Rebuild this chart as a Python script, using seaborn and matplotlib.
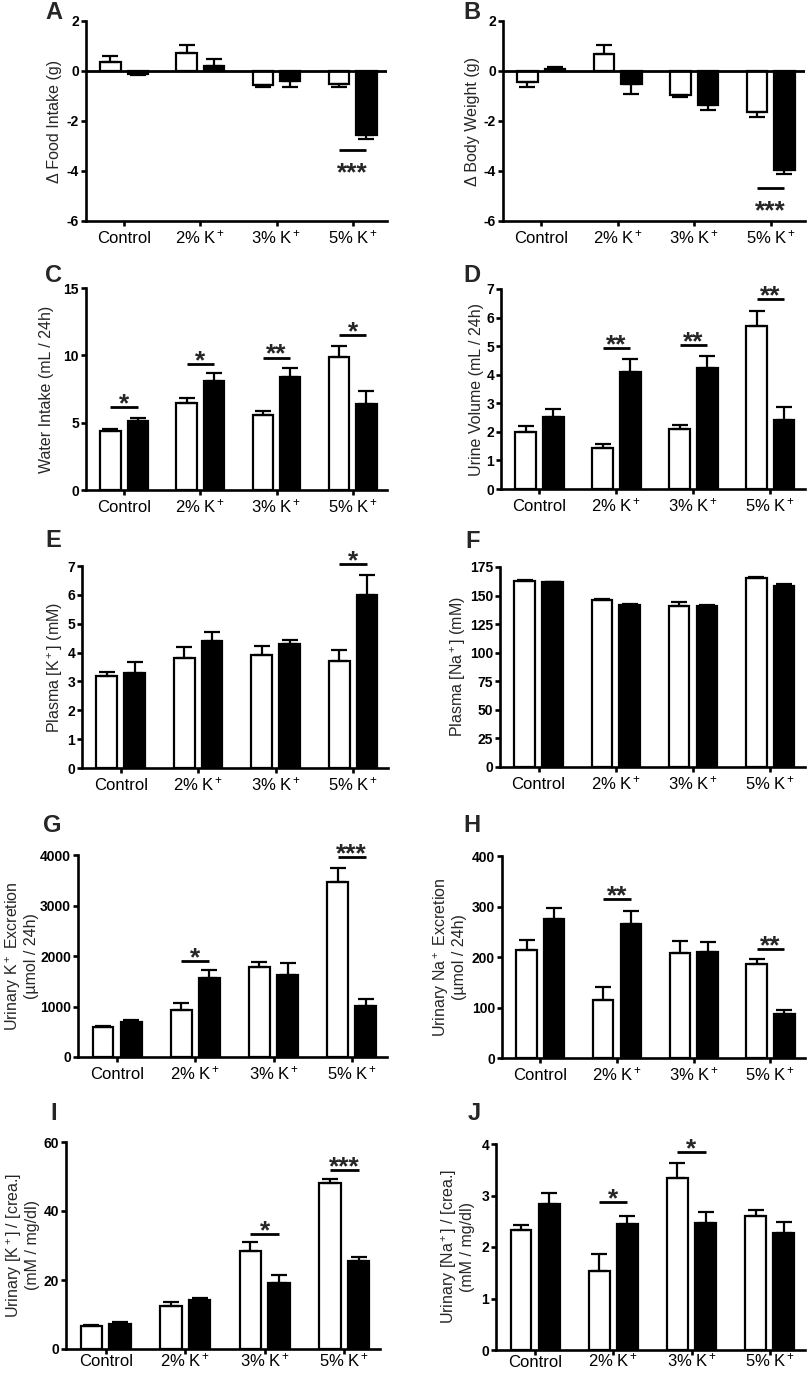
import matplotlib
matplotlib.use("Agg")
import matplotlib.pyplot as plt
import seaborn as sns
import pandas as pd

# categories
diets = ["Control", "2% K$^+$", "3% K$^+$", "5% K$^+$"]

# A - food intake
food_open = [0.35, 0.73, -0.55, -0.5]
food_open_sem = [0.27, 0.33, 0.08, 0.15]
food_filled = [-0.1, 0.2, -0.4, -2.55]
food_filled_sem = [0.05, 0.27, 0.25, 0.15]

# B - body weight
weight_open = [-0.45, 0.7, -0.97, -1.63]
weight_open_sem = [0.2, 0.33, 0.07, 0.2]
weight_filled = [0.08, -0.5, -1.37, -3.95]
weight_filled_sem = [0.07, 0.4, 0.2, 0.15]

# C - water intake
water_open = [4.4, 6.45, 5.55, 9.9]
water_open_sem = [0.12, 0.35, 0.3, 0.8]
water_filled = [5.1, 8.1, 8.4, 6.35]
water_filled_sem = [0.28, 0.58, 0.68, 0.98]

# D - urine volume
urine_open = [2.0, 1.45, 2.1, 5.7]
urine_open_sem = [0.2, 0.13, 0.13, 0.53]
urine_filled = [2.53, 4.1, 4.25, 2.43]
urine_filled_sem = [0.26, 0.45, 0.4, 0.44]

# E - plasma K
pk_open = [3.2, 3.8, 3.9, 3.7]
pk_open_sem = [0.13, 0.38, 0.32, 0.4]
pk_filled = [3.3, 4.4, 4.3, 6.0]
pk_filled_sem = [0.38, 0.32, 0.14, 0.68]

# F - plasma Na
pna_open = [162.5, 146.5, 140.5, 165.5]
pna_open_sem = [1.0, 0.7, 4.0, 0.6]
pna_filled = [161.5, 141.5, 141.0, 158.5]
pna_filled_sem = [0.5, 1.0, 0.5, 2.0]

# G - urinary K excretion
uk_open = [590, 940, 1785, 3460]
uk_open_sem = [30, 135, 100, 280]
uk_filled = [690, 1570, 1620, 1010]
uk_filled_sem = [50, 145, 240, 140]

# H - urinary Na excretion
una_open = [213, 115, 207, 186]
una_open_sem = [20, 25, 25, 10]
una_filled = [275, 265, 210, 88]
una_filled_sem = [22, 27, 19, 7]

# I - urinary K / creatinine
ukc_open = [6.6, 12.5, 28.5, 48.0]
ukc_open_sem = [0.5, 1.2, 2.6, 1.3]
ukc_filled = [7.3, 14.3, 19.2, 25.4]
ukc_filled_sem = [0.5, 0.5, 2.3, 1.4]

# J - urinary Na / creatinine
unac_open = [2.33, 1.53, 3.34, 2.6]
unac_open_sem = [0.09, 0.33, 0.3, 0.12]
unac_filled = [2.84, 2.44, 2.47, 2.27]
unac_filled_sem = [0.21, 0.17, 0.21, 0.22]

sns.set_theme(style="ticks")
plt.rcParams["font.family"] = ["Liberation Sans", "DejaVu Sans"]
plt.rcParams["mathtext.fontset"] = "custom"
plt.rcParams["mathtext.rm"] = "Liberation Sans"
plt.rcParams["mathtext.it"] = "Liberation Sans:italic"
plt.rcParams["mathtext.bf"] = "Liberation Sans:bold"

W, H = 810, 1373
fig = plt.figure(figsize=(W / 100, H / 100), dpi=100)


def make_ax(left, top, right, bottom):
    return fig.add_axes([left / W, 1 - bottom / H, (right - left) / W, (bottom - top) / H])


def panel(box, letter, letter_xy, open_vals, open_sem, filled_vals, filled_sem,
          ylim, yticks, ylabel, label_x, sig, zero_line=False, xpad=12.5):
    left, top, right, bottom = box
    ax = make_ax(*box)
    df = pd.DataFrame({
        "diet": diets * 2,
        "group": ["open"] * 4 + ["filled"] * 4,
        "value": open_vals + filled_vals,
    })
    sns.barplot(data=df, x="diet", y="value", hue="group", order=diets,
                hue_order=["open", "filled"],
                palette={"open": "white", "filled": "black"}, saturation=1,
                edgecolor="black", linewidth=1.6, width=0.72, gap=0.26,
                errorbar=None, legend=False, ax=ax)

    # one-sided SEM bars
    for cont, vals, sems in zip(ax.containers, [open_vals, filled_vals], [open_sem, filled_sem]):
        for bar, v, e in zip(cont, vals, sems):
            xc = bar.get_x() + bar.get_width() / 2
            yerr = [[0], [e]] if v >= 0 else [[e], [0]]
            ax.errorbar([xc], [v], yerr=yerr, fmt="none", ecolor="black",
                        elinewidth=1.6, capsize=5.5, capthick=1.6, zorder=3)

    if zero_line:
        ax.axhline(0, color="black", lw=2.0, zorder=4)

    for i, y, txt, where in sig:
        ax.plot([i - 0.18, i + 0.18], [y, y], color="black", lw=2.0,
                solid_capstyle="butt", clip_on=False)
        dy = -3 if where == "above" else -22
        ax.annotate(txt, (i, y), xytext=(0, dy), textcoords="offset points",
                    ha="center", va="baseline", fontsize=19, fontweight="bold",
                    annotation_clip=False)

    ax.set_xlim(-0.5, 3.45)
    ax.set_ylim(*ylim)
    ax.set_yticks(yticks)
    ax.set_yticklabels([str(t) for t in yticks], fontsize=10, fontweight="bold")
    ax.set_xticks(range(4))
    ax.set_xticklabels(diets, fontsize=12)
    for lab in ax.get_xticklabels():
        lab.set_verticalalignment("baseline")
    ax.set_xlabel("")
    ax.set_ylabel(ylabel, fontsize=11.5, linespacing=1.1)
    ax.yaxis.label.set_verticalalignment("center")
    ax.yaxis.set_label_coords((label_x - left) / (right - left), 0.5)

    sns.despine(ax=ax)
    for s in ["left", "bottom"]:
        ax.spines[s].set_linewidth(1.9)
        ax.spines[s].set_color("black")
    ax.tick_params(axis="both", direction="out", length=3.5, width=1.9,
                   color="black", labelcolor="black")
    ax.tick_params(axis="y", pad=1.5)
    ax.tick_params(axis="x", pad=xpad)
    ax.set_facecolor("white")

    fig.text(letter_xy[0] / W, 1 - letter_xy[1] / H, letter, fontsize=17,
             fontweight="bold", va="baseline", ha="left")
    return ax


panel((86, 21, 387, 221), "A", (45, 19), food_open, food_open_sem, food_filled, food_filled_sem,
      (-6, 2), [-6, -4, -2, 0, 2], "Δ Food Intake (g)", 55,
      [(3, -3.16, "***", "below")], zero_line=True)
panel((503, 21, 805, 221), "B", (463, 19), weight_open, weight_open_sem, weight_filled, weight_filled_sem,
      (-6, 2), [-6, -4, -2, 0, 2], "Δ Body Weight (g)", 473,
      [(3, -4.69, "***", "below")], zero_line=True)
panel((86, 288, 387, 490), "C", (45, 282), water_open, water_open_sem, water_filled, water_filled_sem,
      (0, 15), [0, 5, 10, 15], "Water Intake (mL / 24h)", 47,
      [(0, 6.13, "*", "above"), (1, 9.38, "*", "above"), (2, 9.83, "**", "above"), (3, 11.49, "*", "above")])
panel((501, 289, 805, 489), "D", (463, 282), urine_open, urine_open_sem, urine_filled, urine_filled_sem,
      (0, 7), list(range(8)), "Urine Volume (mL / 24h)", 477,
      [(1, 4.92, "**", "above"), (2, 5.04, "**", "above"), (3, 6.65, "**", "above")])
panel((82, 566, 388, 768), "E", (45, 547), pk_open, pk_open_sem, pk_filled, pk_filled_sem,
      (0, 7), list(range(8)), "Plasma [K$^+$] (mM)", 55,
      [(3, 7.06, "*", "above")])
panel((500, 567, 805, 767), "F", (465, 548), pna_open, pna_open_sem, pna_filled, pna_filled_sem,
      (0, 175), list(range(0, 176, 25)), "Plasma [Na$^+$] (mM)", 458, [])
panel((78, 855, 387, 1057), "G", (43, 832), uk_open, uk_open_sem, uk_filled, uk_filled_sem,
      (0, 4000), [0, 1000, 2000, 3000, 4000], "Urinary K$^+$ Excretion\n(µmol / 24h)", 21,
      [(1, 1897, "*", "above"), (3, 3967, "***", "above")])
panel((502, 856, 805, 1058), "H", (463, 832), una_open, una_open_sem, una_filled, una_filled_sem,
      (0, 400), [0, 100, 200, 300, 400], "Urinary Na$^+$ Excretion\n(µmol / 24h)", 449,
      [(1, 315, "**", "above"), (3, 215, "**", "above")])
panel((66, 1142, 380, 1349), "I", (50, 1120), ukc_open, ukc_open_sem, ukc_filled, ukc_filled_sem,
      (0, 60), [0, 20, 40, 60], "Urinary [K$^+$] / [crea.]\n(mM / mg/dl)", 22,
      [(2, 33.4, "*", "above"), (3, 51.8, "***", "above")], xpad=9)
panel((496, 1144, 805, 1350), "J", (468, 1120), unac_open, unac_open_sem, unac_filled, unac_filled_sem,
      (0, 4), [0, 1, 2, 3, 4], "Urinary [Na$^+$] / [crea.]\n(mM / mg/dl)", 457,
      [(1, 2.87, "*", "above"), (2, 3.84, "*", "above")], xpad=8.5)

fig.savefig("out.png", dpi=100, facecolor="white")
